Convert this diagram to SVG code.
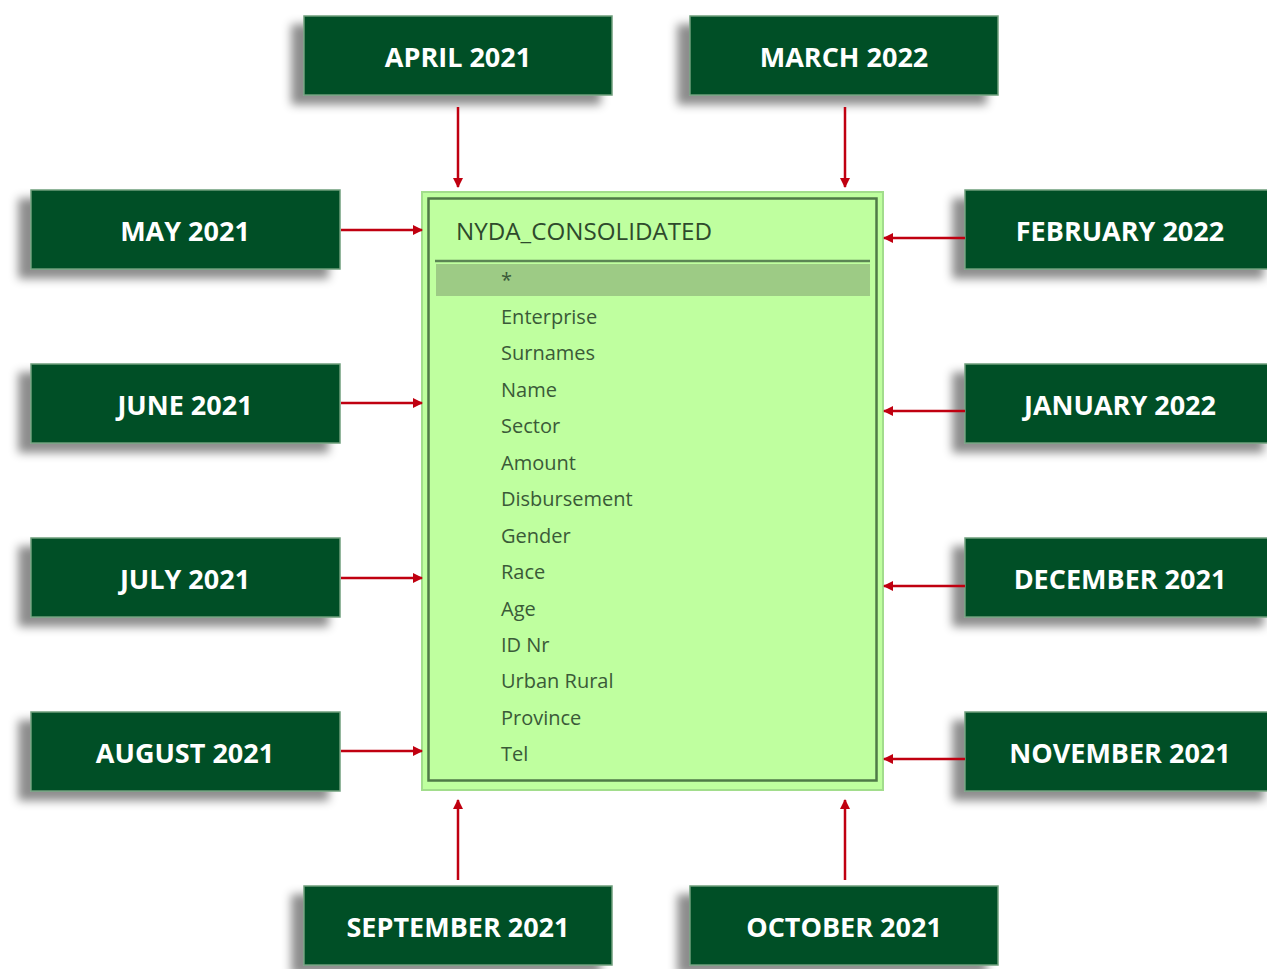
<svg xmlns="http://www.w3.org/2000/svg" width="1267" height="969" viewBox="0 0 1267 969">
<defs>
<filter id="sh" x="-20%" y="-30%" width="140%" height="170%">
<feGaussianBlur in="SourceAlpha" stdDeviation="5"/>
<feOffset dx="-12" dy="9" result="b"/>
<feFlood flood-color="#000" flood-opacity="0.45"/>
<feComposite in2="b" operator="in"/>
<feMerge><feMergeNode/><feMergeNode in="SourceGraphic"/></feMerge>
</filter>
<marker id="ah" viewBox="0 0 10 10" refX="9" refY="5" markerWidth="4" markerHeight="4" orient="auto" markerUnits="strokeWidth">
<path d="M0,0 L10,5 L0,10 z" fill="#c00010"/>
</marker>
<style>
.box{fill:#024f26;stroke:#6f9e7c;stroke-width:1.5;filter:url(#sh)}
.lbl{font-family:"Open Sans","Liberation Sans",sans-serif;font-weight:bold;font-size:27px;fill:#fff;text-anchor:middle;dominant-baseline:central}
.con line{stroke:#c00010;stroke-width:2.5;marker-end:url(#ah)}
.fld{font-family:"Open Sans","Noto Sans",sans-serif;font-size:20px;fill:#3a5a38}
</style>
</defs>
<rect width="1267" height="969" fill="#fff"/>

<g id="table">
<rect x="422" y="192" width="461" height="598" fill="#bfff9f" stroke="#a2dd8c" stroke-width="2"/>
<rect x="428.5" y="198.5" width="448" height="582" fill="none" stroke="#4f7a47" stroke-width="2.5"/>
<line x1="435" y1="261" x2="870" y2="261" stroke="#5b8654" stroke-width="2.5"/>
<rect x="436" y="264" width="434" height="32" fill="#9dcb85"/>
<text x="456" y="240" font-family="'Open Sans','Noto Sans',sans-serif" font-size="24.2" fill="#2e4a2c">NYDA_CONSOLIDATED</text>
<text class="fld" x="501" y="287">*</text>
<text class="fld" x="501" y="324">Enterprise</text>
<text class="fld" x="501" y="360">Surnames</text>
<text class="fld" x="501" y="397">Name</text>
<text class="fld" x="501" y="433">Sector</text>
<text class="fld" x="501" y="470">Amount</text>
<text class="fld" x="501" y="506">Disbursement</text>
<text class="fld" x="501" y="543">Gender</text>
<text class="fld" x="501" y="579">Race</text>
<text class="fld" x="501" y="616">Age</text>
<text class="fld" x="501" y="652">ID Nr</text>
<text class="fld" x="501" y="688">Urban Rural</text>
<text class="fld" x="501" y="725">Province</text>
<text class="fld" x="501" y="761">Tel</text>
</g>

<g id="apr2021"><rect class="box" x="304" y="16" width="308" height="79"/><text class="lbl" x="458" y="56">APRIL 2021</text></g>
<g id="mar2022"><rect class="box" x="690" y="16" width="308" height="79"/><text class="lbl" x="844" y="56">MARCH 2022</text></g>
<g id="may2021"><rect class="box" x="31" y="190" width="309" height="79"/><text class="lbl" x="185" y="230">MAY 2021</text></g>
<g id="feb2022"><rect class="box" x="965" y="190" width="310" height="79"/><text class="lbl" x="1120" y="230">FEBRUARY 2022</text></g>
<g id="jun2021"><rect class="box" x="31" y="364" width="309" height="79"/><text class="lbl" x="185" y="404">JUNE 2021</text></g>
<g id="jan2022"><rect class="box" x="965" y="364" width="310" height="79"/><text class="lbl" x="1120" y="404">JANUARY 2022</text></g>
<g id="jul2021"><rect class="box" x="31" y="538" width="309" height="79"/><text class="lbl" x="185" y="578">JULY 2021</text></g>
<g id="dec2021"><rect class="box" x="965" y="538" width="310" height="79"/><text class="lbl" x="1120" y="578">DECEMBER 2021</text></g>
<g id="aug2021"><rect class="box" x="31" y="712" width="309" height="79"/><text class="lbl" x="185" y="752">AUGUST 2021</text></g>
<g id="nov2021"><rect class="box" x="965" y="712" width="310" height="79"/><text class="lbl" x="1120" y="752">NOVEMBER 2021</text></g>
<g id="sep2021"><rect class="box" x="304" y="886" width="308" height="79"/><text class="lbl" x="458" y="926">SEPTEMBER 2021</text></g>
<g id="oct2021"><rect class="box" x="690" y="886" width="308" height="79"/><text class="lbl" x="844" y="926">OCTOBER 2021</text></g>

<g id="connectors" class="con">
<line x1="458" y1="107" x2="458" y2="187"/>
<line x1="845" y1="107" x2="845" y2="187"/>
<line x1="341" y1="230" x2="422" y2="230"/>
<line x1="341" y1="403" x2="422" y2="403"/>
<line x1="341" y1="578" x2="422" y2="578"/>
<line x1="341" y1="751" x2="422" y2="751"/>
<line x1="965" y1="238" x2="884" y2="238"/>
<line x1="965" y1="411" x2="884" y2="411"/>
<line x1="965" y1="586" x2="884" y2="586"/>
<line x1="965" y1="759" x2="884" y2="759"/>
<line x1="458" y1="880" x2="458" y2="800"/>
<line x1="845" y1="880" x2="845" y2="800"/>
</g>
</svg>
